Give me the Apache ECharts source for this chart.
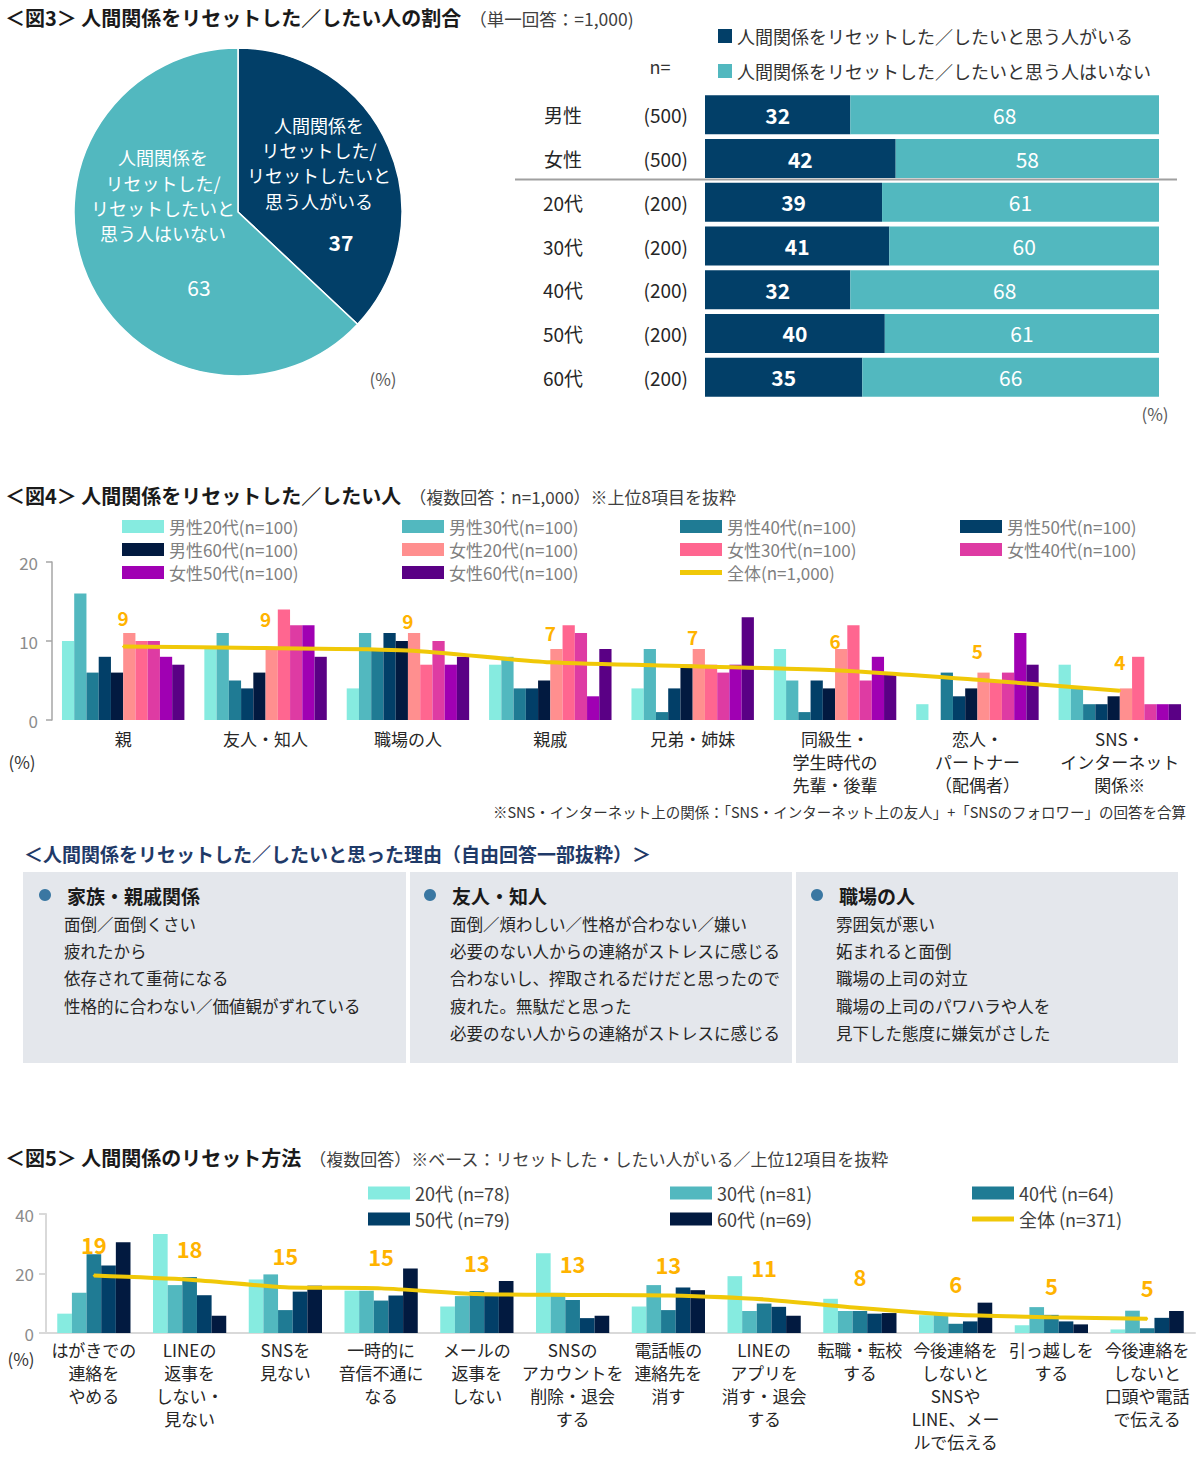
<!DOCTYPE html>
<html><head><meta charset="utf-8">
<script src="https://cdn.jsdelivr.net/npm/echarts@6/dist/echarts.min.js"></script>
<style>html,body{margin:0;padding:0;background:#fff}#c{width:1200px;height:1464px}</style>
</head><body><div id="c"></div>
<script>
// ---------- DATA ----------
// Fig 3 pie
const pieNames = ['人間関係を\nリセットした/\nリセットしたいと\n思う人がいる', '人間関係を\nリセットした/\nリセットしたいと\n思う人はいない'];
const pieValues = [37, 63];
// Fig 3 stacked bars
const fig3Groups = ['男性', '女性', '20代', '30代', '40代', '50代', '60代'];
const fig3N = ['(500)', '(500)', '(200)', '(200)', '(200)', '(200)', '(200)'];
const fig3Yes = [32, 42, 39, 41, 32, 40, 35];
const fig3No = [68, 58, 61, 60, 68, 61, 66];
const fig3SeriesNames = ['人間関係をリセットした／したいと思う人がいる', '人間関係をリセットした／したいと思う人はいない'];
// Fig 4
const fig4Categories = ['親', '友人・知人', '職場の人', '親戚', '兄弟・姉妹', '同級生・\n学生時代の\n先輩・後輩', '恋人・\nパートナー\n（配偶者）', 'SNS・\nインターネット\n関係※'];
const fig4Names = ['男性20代(n=100)', '男性30代(n=100)', '男性40代(n=100)', '男性50代(n=100)', '男性60代(n=100)', '女性20代(n=100)', '女性30代(n=100)', '女性40代(n=100)', '女性50代(n=100)', '女性60代(n=100)'];
const male20 = [10, 9, 4, 7, 4, 9, 2, 7];
const male30 = [16, 11, 11, 8, 9, 5, 0, 4];
const male40 = [6, 5, 9, 4, 1, 1, 6, 2];
const male50 = [8, 4, 11, 4, 4, 5, 3, 2];
const male60 = [6, 6, 10, 5, 7, 4, 4, 3];
const female20 = [11, 9, 11, 9, 9, 9, 6, 4];
const female30 = [10, 14, 7, 12, 7, 12, 5, 8];
const female40 = [10, 12, 10, 11, 6, 5, 6, 2];
const female50 = [8, 12, 7, 3, 7, 8, 11, 2];
const female60 = [7, 8, 8, 9, 13, 6, 7, 2];
const fig4TotalName = '全体(n=1,000)';
const fig4Total = [9.3, 9.1, 8.8, 7.3, 6.8, 6.3, 5.1, 3.7];
const fig4YTicks = [0, 10, 20];
// Fig 5
const fig5Categories = ['はがきでの\n連絡を\nやめる', 'LINEの\n返事を\nしない・\n見ない', 'SNSを\n見ない', '一時的に\n音信不通に\nなる', 'メールの\n返事を\nしない', 'SNSの\nアカウントを\n削除・退会\nする', '電話帳の\n連絡先を\n消す', 'LINEの\nアプリを\n消す・退会\nする', '転職・転校\nする', '今後連絡を\nしないと\nSNSや\nLINE、メー\nルで伝える', '引っ越しを\nする', '今後連絡を\nしないと\n口頭や電話\nで伝える'];
const fig5Names = ['20代 (n=78)', '30代 (n=81)', '40代 (n=64)', '50代 (n=79)', '60代 (n=69)'];
const age20 = [6.5, 33.3, 18.0, 14.2, 8.9, 26.8, 8.9, 19.1, 11.5, 6.0, 2.6, 1.2];
const age30 = [13.5, 16.1, 19.7, 14.2, 12.4, 13.5, 16.1, 7.4, 7.4, 6.0, 8.7, 7.5];
const age40 = [26.5, 18.8, 7.7, 10.9, 14.1, 11.1, 7.7, 9.9, 7.4, 3.1, 6.1, 1.6];
const age50 = [22.7, 12.7, 13.9, 12.6, 13.5, 5.0, 15.3, 8.8, 6.5, 3.9, 3.9, 5.1];
const age60 = [30.5, 5.8, 15.9, 21.7, 17.5, 5.8, 14.4, 5.8, 6.7, 10.2, 2.9, 7.4];
const fig5TotalName = '全体 (n=371)';
const fig5Total = [19.3, 17.9, 15.4, 15.0, 13.1, 12.8, 12.6, 11.3, 8.4, 6.1, 5.3, 4.8];
const fig5YTicks = [0, 20, 40];
// Free-answer box texts
const boxHeads = ['家族・親戚関係', '友人・知人', '職場の人'];
const boxLines = [
  ['面倒／面倒くさい', '疲れたから', '依存されて重荷になる', '性格的に合わない／価値観がずれている'],
  ['面倒／煩わしい／性格が合わない／嫌い', '必要のない人からの連絡がストレスに感じる', '合わないし、搾取されるだけだと思ったので', '疲れた。無駄だと思った', '必要のない人からの連絡がストレスに感じる'],
  ['雰囲気が悪い', '妬まれると面倒', '職場の上司の対立', '職場の上司のパワハラや人を', '見下した態度に嫌気がさした']
];

// ---------- STYLE ----------
const FONT = '"Noto Sans CJK JP", "Noto Sans", sans-serif';
const C_DARK = '#023f68', C_TEAL = '#52b8bf';
const fig4Colors = ['#86ebe0', '#52b8bf', '#1f7b94', '#023f68', '#021a40', '#ff8f8f', '#ff6690', '#de3ba3', '#a000b3', '#5a0085'];
const fig5Colors = ['#86ebe0', '#52b8bf', '#1f7b94', '#023f68', '#021a40'];
const LINE_C = '#f0c808', LABEL_C = '#ffb300';

const chart = echarts.init(document.getElementById('c'), null, {renderer: 'svg', width: 1200, height: 1464});

const fig4Data = [male20, male30, male40, male50, male60, female20, female30, female40, female50, female60];
const fig5Data = [age20, age30, age40, age50, age60];

const series = [];
// pie
series.push({
  type: 'pie', center: [238, 212], radius: 164, startAngle: 90, clockwise: true,
  silent: true,
  itemStyle: {borderColor: '#fff', borderWidth: 1.5},
  data: [
    {name: 'pie-yes', value: pieValues[0], itemStyle: {color: C_DARK},
     label: {formatter: () => `{t|${pieNames[0]}}\n{v|${pieValues[0]}}`, offset: [3, 13],
       rich: {t: {fontSize: 18, lineHeight: 25.3, color: '#fff', fontFamily: FONT},
              v: {fontSize: 21, fontWeight: 'bold', lineHeight: 57, color: '#fff', padding: [0, 0, 0, 44], fontFamily: FONT}}}},
    {name: 'pie-no', value: pieValues[1], itemStyle: {color: C_TEAL},
     label: {formatter: () => `{t|${pieNames[1]}}\n{v|${pieValues[1]}}`, offset: [3, -9],
       rich: {t: {fontSize: 18, lineHeight: 25.3, color: '#fff', fontFamily: FONT},
              v: {fontSize: 21, lineHeight: 83, color: '#fff', padding: [0, 0, 0, 72], fontFamily: FONT}}}}
  ],
  label: {show: true, position: 'inside', align: 'center'},
  labelLine: {show: false}
});
// fig 3 stacked bars (normalised to each row's total)
series.push({
  name: fig3SeriesNames[0], type: 'bar', stack: 'r', xAxisIndex: 0, yAxisIndex: 0, barWidth: 39,
  itemStyle: {color: C_DARK},
  data: fig3Yes.map((v, i) => v / (v + fig3No[i]) * 100),
  label: {show: true, position: 'inside', color: '#fff', fontSize: 21, fontWeight: 'bold', fontFamily: FONT,
    formatter: p => fig3Yes[p.dataIndex]}
});
series.push({
  name: fig3SeriesNames[1], type: 'bar', stack: 'r', xAxisIndex: 0, yAxisIndex: 0, barWidth: 39,
  itemStyle: {color: C_TEAL},
  data: fig3No.map((v, i) => v / (v + fig3Yes[i]) * 100),
  label: {show: true, position: 'inside', color: '#fff', fontSize: 21, fontFamily: FONT,
    formatter: p => fig3No[p.dataIndex]}
});
// fig 4 bars
fig4Data.forEach((d, i) => series.push({
  name: fig4Names[i], type: 'bar', xAxisIndex: 1, yAxisIndex: 1, data: d,
  barGap: 0, barCategoryGap: '14%', itemStyle: {color: fig4Colors[i]}
}));
series.push({
  name: fig4TotalName, type: 'line', xAxisIndex: 1, yAxisIndex: 1, data: fig4Total, z: 5,
  symbol: 'circle', symbolSize: 2, showSymbol: true, smooth: 0.25,
  lineStyle: {color: LINE_C, width: 4}, itemStyle: {color: LINE_C},
  label: {show: true, position: 'top', distance: 19, color: LABEL_C, fontSize: 19, fontWeight: 'bold', fontFamily: FONT,
    formatter: p => Math.round(p.value)}
});
// fig 5 bars
fig5Data.forEach((d, i) => series.push({
  name: fig5Names[i], type: 'bar', xAxisIndex: 2, yAxisIndex: 2, data: d,
  barGap: 0, barCategoryGap: '23.5%', itemStyle: {color: fig5Colors[i]}
}));
series.push({
  name: fig5TotalName, type: 'line', xAxisIndex: 2, yAxisIndex: 2, data: fig5Total, z: 5,
  symbol: 'circle', symbolSize: 2, showSymbol: true, smooth: 0.25,
  lineStyle: {color: LINE_C, width: 4}, itemStyle: {color: LINE_C},
  label: {show: true, position: 'top', distance: 20, color: LABEL_C, fontSize: 22, fontWeight: 'bold', fontFamily: FONT,
    formatter: p => Math.round(p.value)}
});

// ---------- GRAPHICS (text) ----------
const g = [];
function txt(text, x, y, opt) {
  g.push({type: 'text', x: x, y: y, silent: true, style: Object.assign({text: text, fill: '#262626', fontFamily: FONT, fontSize: 17, verticalAlign: 'middle', align: 'left'}, opt || {})});
}
function title(main, sub, y, subSize) {
  g.push({type: 'text', x: 5, y: y, silent: true, style: {
    text: `{a|${main}}{b|${sub}}`, verticalAlign: 'middle',
    rich: {a: {fontSize: 20, fontWeight: 'bold', fill: '#1a1a1a', fontFamily: FONT},
           b: {fontSize: subSize || 16.5, fill: '#404040', fontFamily: FONT, padding: [2, 0, 0, 8]}}}});
}
title('＜図3＞ 人間関係をリセットした／したい人の割合', '（単一回答：=1,000)', 17, 17.5);
title('＜図4＞ 人間関係をリセットした／したい人', '（複数回答：n=1,000）※上位8項目を抜粋', 495, 17);
title('＜図5＞ 人間関係のリセット方法', '（複数回答）※ベース：リセットした・したい人がいる／上位12項目を抜粋', 1157, 17);
txt('(%)', 383, 378, {fontSize: 17, fill: '#595959', align: 'center'});
txt('n=', 660, 66, {fontSize: 18, fill: '#333', align: 'center'});
txt('(%)', 1155, 413, {fontSize: 17, fill: '#595959', align: 'center'});
g.push({type: 'line', silent: true, shape: {x1: 515, y1: 179.5, x2: 1177, y2: 179.5}, style: {stroke: '#a0a0a0', lineWidth: 2}});
txt('(%)', 22, 761, {fontSize: 17, fill: '#333', align: 'center'});
txt('※SNS・インターネット上の関係：「SNS・インターネット上の友人」+「SNSのフォロワー」の回答を合算', 1186, 811, {fontSize: 14.5, fill: '#333', align: 'right'});
txt('＜人間関係をリセットした／したいと思った理由（自由回答一部抜粋）＞', 24, 853, {fontSize: 19, fontWeight: 'bold', fill: '#1f3a68'});
const boxX = [23, 410, 796], boxW = [383, 382, 382];
const headX = [67, 452, 839], lineX = [64, 450, 836];
boxHeads.forEach((h, i) => {
  g.push({type: 'rect', silent: true, shape: {x: boxX[i], y: 872, width: boxW[i], height: 191}, style: {fill: '#e4e7ec'}});
  g.push({type: 'circle', silent: true, shape: {cx: headX[i] - 22, cy: 895, r: 6}, style: {fill: '#3a77a2'}});
  txt(h, headX[i], 895, {fontSize: 19, fontWeight: 'bold', fill: '#1a1a1a'});
  boxLines[i].forEach((l, j) => txt(l, lineX[i], 924 + j * 27.2, {fontSize: 16.5, fill: '#262626'}));
});
txt('(%)', 21, 1358, {fontSize: 17, fill: '#333', align: 'center'});

// ---------- LEGENDS ----------
function leg(names, left, top, opts) {
  return Object.assign({data: names, left: left, top: top, orient: 'vertical', selectedMode: false, padding: 0,
    itemWidth: 42, itemHeight: 13, itemGap: 6, icon: 'rect',
    textStyle: {fontSize: 17, color: '#808080', fontFamily: FONT}}, opts || {});
}
const lineIcon = 'path://M0,0 L42,0 L42,5 L0,5 Z';
const f5Text = {fontSize: 18, color: '#404040', fontFamily: FONT};
const legends = [
  leg(fig3SeriesNames, 718, 27, {itemWidth: 14, itemHeight: 14, itemGap: 17, textStyle: {fontSize: 18, color: '#333', fontFamily: FONT}}),
  leg([fig4Names[0], fig4Names[4], fig4Names[8]], 122, 518),
  leg([fig4Names[1], fig4Names[5], fig4Names[9]], 402, 518),
  leg([fig4Names[2], fig4Names[6], {name: fig4TotalName, icon: lineIcon, itemStyle: {color: LINE_C}}], 680, 518),
  leg([fig4Names[3], fig4Names[7]], 960, 518),
  leg([fig5Names[0], fig5Names[3]], 368, 1184, {itemGap: 8, textStyle: f5Text}),
  leg([fig5Names[1], fig5Names[4]], 670, 1184, {itemGap: 8, textStyle: f5Text}),
  leg([fig5Names[2], {name: fig5TotalName, icon: lineIcon, itemStyle: {color: LINE_C}}], 972, 1184, {itemGap: 8, textStyle: f5Text})
];

const option = {
  animation: false,
  backgroundColor: '#fff',
  textStyle: {fontFamily: FONT},
  grid: [
    {left: 705, top: 93, width: 454, height: 306},
    {left: 52, top: 562, width: 1139, height: 158},
    {left: 46, top: 1214, width: 1149, height: 119}
  ],
  xAxis: [
    {type: 'value', gridIndex: 0, min: 0, max: 100, show: false},
    {type: 'category', gridIndex: 1, data: fig4Categories,
      axisLine: {show: false}, axisTick: {show: false},
      axisLabel: {interval: 0, fontSize: 17, lineHeight: 23, color: '#262626', margin: 7, fontFamily: FONT}},
    {type: 'category', gridIndex: 2, data: fig5Categories,
      axisLine: {show: true, lineStyle: {color: '#d9d9d9', width: 2}}, axisTick: {show: false},
      axisLabel: {interval: 0, fontSize: 17, lineHeight: 23, color: '#262626', margin: 5, fontFamily: FONT}}
  ],
  yAxis: [
    {type: 'category', gridIndex: 0, data: fig3Groups, inverse: true,
      axisLine: {show: false}, axisTick: {show: false},
      axisLabel: {margin: 17, fontFamily: FONT,
        formatter: (v, i) => `{a|${v}}{b|${fig3N[i]}}`,
        rich: {a: {width: 80, align: 'center', fontSize: 19, color: '#262626', fontFamily: FONT},
               b: {width: 85, align: 'right', fontSize: 19, color: '#262626', fontFamily: FONT}}}},
    {type: 'value', gridIndex: 1, min: fig4YTicks[0], max: fig4YTicks[2], interval: fig4YTicks[1] - fig4YTicks[0],
      axisLine: {show: true, lineStyle: {color: '#a6a6a6', width: 1.5}},
      axisTick: {show: true, length: 6, lineStyle: {color: '#a6a6a6', width: 1.5}},
      splitLine: {show: false},
      axisLabel: {fontSize: 17, color: '#8c8c8c', margin: 14, fontFamily: FONT}},
    {type: 'value', gridIndex: 2, min: fig5YTicks[0], max: fig5YTicks[2], interval: fig5YTicks[1] - fig5YTicks[0],
      axisLine: {show: true, lineStyle: {color: '#d9d9d9', width: 2}},
      axisTick: {show: true, length: 7, lineStyle: {color: '#d9d9d9', width: 2}},
      splitLine: {show: false},
      axisLabel: {fontSize: 17, color: '#8c8c8c', margin: 12, fontFamily: FONT}}
  ],
  legend: legends,
  series: series,
  graphic: g
};
chart.setOption(option);
</script>
</body></html>
